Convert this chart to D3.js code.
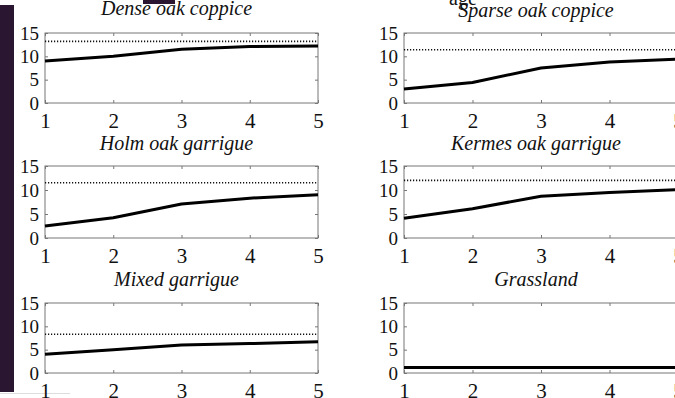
<!DOCTYPE html>
<html><head><meta charset="utf-8">
<script src="https://cdn.jsdelivr.net/npm/d3@7/dist/d3.min.js"></script>
<style>
html,body{margin:0;padding:0;background:#fff;}
svg{display:block;}
</style></head>
<body>
<svg id="c" width="675" height="398"></svg>
<script>
const xValues = [1, 2, 3, 4, 5];
const yTicks = [0, 5, 10, 15];
const titles = ["Dense oak coppice", "Sparse oak coppice", "Holm oak garrigue", "Kermes oak garrigue", "Mixed garrigue", "Grassland"];
const solidSeries = [
  [9.0, 10.0, 11.5, 12.1, 12.2],
  [3.0, 4.4, 7.5, 8.8, 9.4],
  [2.5, 4.2, 7.1, 8.3, 9.0],
  [4.1, 6.1, 8.7, 9.5, 10.1],
  [4.0, 5.0, 6.0, 6.3, 6.7],
  [1.2, 1.2, 1.2, 1.2, 1.2]
];
const dottedLevels = [13.2, 11.4, 11.5, 12.0, 8.3, 1.2];

const svg = d3.select("#c");
const cols = [[45, 318], [404, 678]];
const rows = [[33, 103], [166, 238], [303, 373]];
const titleBase = [15, 150, 286];
const serif = '"Liberation Serif"';

// decorative crop remnants
svg.append("rect").attr("x", 0).attr("y", 5).attr("width", 14).attr("height", 387).attr("fill", "#2b1631");
svg.append("rect").attr("x", 143).attr("y", 0).attr("width", 32).attr("height", 4).attr("fill", "#2b1631");
svg.append("line").attr("x1", 0).attr("x2", 70).attr("y1", 393.5).attr("y2", 393.5).attr("stroke", "#ddd").attr("stroke-width", 1);

svg.append("text").attr("x", 463).attr("y", 5).attr("text-anchor", "middle")
  .style("font-family", serif).style("font-size", "20px").attr("fill", "#111").text("age");

titles.forEach((t, i) => {
  const c = cols[i % 2], r = rows[Math.floor(i / 2)];
  const x = d3.scaleLinear().domain([1, 5]).range(c);
  const y = d3.scaleLinear().domain([0, 15]).range([r[1], r[0]]);
  const g = svg.append("g");

  g.append("rect").attr("x", c[0]).attr("y", r[0]).attr("width", c[1] - c[0]).attr("height", r[1] - r[0])
    .attr("fill", "#fff").attr("stroke", "#777").attr("stroke-width", 1);

  const styleAxis = (sel, fs) => {
    sel.select(".domain").remove();
    sel.selectAll(".tick line").attr("stroke", "#777");
    sel.selectAll(".tick text").style("font-family", serif).style("font-size", fs + "px").attr("fill", "#111");
  };

  g.append("g").attr("transform", `translate(0,${r[1]})`)
    .call(d3.axisBottom(x).tickValues(xValues).tickFormat(d3.format("d")).tickSize(-3).tickPadding(10))
    .call(s => styleAxis(s, 21));
  g.append("g").attr("transform", `translate(0,${r[0]})`)
    .call(d3.axisTop(x).tickValues(xValues).tickFormat("").tickSize(-3))
    .call(s => styleAxis(s, 21));
  g.append("g").attr("transform", `translate(${c[0]},0)`)
    .call(d3.axisLeft(y).tickValues(yTicks).tickFormat(d3.format("d")).tickSize(-3).tickPadding(6))
    .call(s => styleAxis(s, 19));
  g.append("g").attr("transform", `translate(${c[1]},0)`)
    .call(d3.axisRight(y).tickValues(yTicks).tickFormat("").tickSize(-3))
    .call(s => styleAxis(s, 19));

  const lv = dottedLevels[i];
  g.append("path").datum(xValues.map(v => [v, lv]))
    .attr("d", d3.line().x(d => x(d[0])).y(d => y(d[1])))
    .attr("fill", "none").attr("stroke", "#111").attr("stroke-width", 1.6).attr("stroke-dasharray", "1.2,1.8");

  g.append("path").datum(xValues.map((v, k) => [v, solidSeries[i][k]]))
    .attr("d", d3.line().x(d => x(d[0])).y(d => y(d[1])))
    .attr("fill", "none").attr("stroke", "#000").attr("stroke-width", 3).attr("stroke-linejoin", "round");

  g.append("text").attr("x", (c[0] + c[1]) / 2 - 5).attr("y", titleBase[Math.floor(i / 2)] + (i === 1 ? 2 : 0))
    .attr("text-anchor", "middle").style("font-family", serif).style("font-style", "italic")
    .style("font-size", "20px").attr("fill", "#111").text(t);
});
</script>
</body></html>
